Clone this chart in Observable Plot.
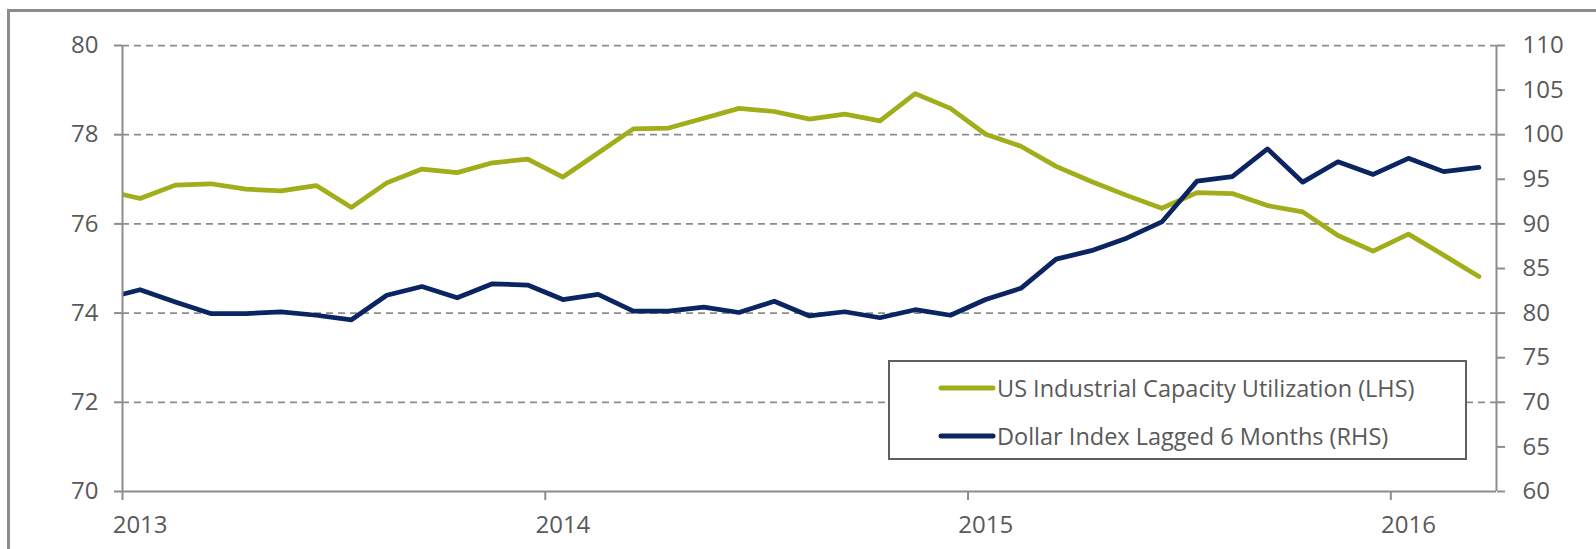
<!DOCTYPE html>
<html>
<head>
<meta charset="utf-8">
<script src="https://cdn.jsdelivr.net/npm/d3@7"></script>
<script src="https://cdn.jsdelivr.net/npm/@observablehq/plot@0.6"></script>
<style>
  body { margin: 0; background: #fff; }
  #wrap { position: relative; width: 1596px; height: 549px; overflow: hidden; font-family: "Open Sans", sans-serif; }
  #frame { position: absolute; left: 7px; top: 9px; width: 2000px; height: 1000px; border: 3px solid #8c8c8c; box-sizing: border-box; }
  #chart { position: absolute; left: 0; top: 0; }
  #legend { position: absolute; left: 888px; top: 360px; width: 579px; height: 100px; border: 2px solid #5f5f5f; background: #fff; box-sizing: border-box; }
  .row { position: absolute; left: 48px; height: 34px; display: flex; align-items: center; color: #595959; font-size: 23.5px; white-space: nowrap; }
  .row svg { margin-right: 1px; }
</style>
</head>
<body>
<div id="wrap">
  <div id="frame"></div>
  <div id="chart"></div>
  <div id="legend"></div>
</div>
<script>
// ---- data ----
const months = [
  "2012-12",
  "2013-01","2013-02","2013-03","2013-04","2013-05","2013-06","2013-07","2013-08","2013-09","2013-10","2013-11","2013-12",
  "2014-01","2014-02","2014-03","2014-04","2014-05","2014-06","2014-07","2014-08","2014-09","2014-10","2014-11","2014-12",
  "2015-01","2015-02","2015-03","2015-04","2015-05","2015-06","2015-07","2015-08","2015-09","2015-10","2015-11","2015-12",
  "2016-01","2016-02","2016-03"
];
const capacityUtilization = [
  76.75,
  76.57, 76.87, 76.90, 76.78, 76.74, 76.86, 76.37, 76.92, 77.23, 77.15, 77.37, 77.45,
  77.05, 77.59, 78.13, 78.15, 78.37, 78.59, 78.52, 78.35, 78.46, 78.31, 78.92, 78.59,
  78.01, 77.74, 77.29, 76.95, 76.64, 76.35, 76.70, 76.68, 76.41, 76.27, 75.74, 75.39,
  75.77, 75.30, 74.82
];
const dollarIndexLagged = [
  81.6,
  82.62, 81.25, 79.95, 79.95, 80.15, 79.76, 79.25, 82.00, 82.98, 81.72, 83.29, 83.15,
  81.52, 82.11, 80.23, 80.23, 80.66, 80.07, 81.33, 79.68, 80.15, 79.48, 80.38, 79.76,
  81.52, 82.78, 86.05, 87.00, 88.40, 90.22, 94.80, 95.30, 98.41, 94.68, 96.96, 95.55,
  97.35, 95.86, 96.33
];
const seriesNames = ["US Industrial Capacity Utilization (LHS)", "Dollar Index Lagged 6 Months (RHS)"];
const leftTicks = [70, 72, 74, 76, 78, 80];
const rightTicks = [60, 65, 70, 75, 80, 85, 90, 95, 100, 105, 110];
const yearLabels = ["2013", "2014", "2015", "2016"];

// ---- styling ----
const GREEN = "#a2ad1a";
const NAVY = "#0b2462";
const AXIS = "#8c8c8c";
const TEXT = "#595959";
const seriesColors = [GREEN, NAVY];

// helpers
const monthPos = m => { const [y, mo] = m.split("-").map(Number); return (y - 2013) * 12 + (mo - 1) + 0.5; };
const leftMin = 70, leftMax = 80, rightMin = 60, rightMax = 110;
const rightToLeft = r => leftMin + (r - rightMin) * (leftMax - leftMin) / (rightMax - rightMin);
const leftToRight = l => rightMin + (l - leftMin) * (rightMax - rightMin) / (leftMax - leftMin);

const capData = months.map((m, i) => ({x: monthPos(m), y: capacityUtilization[i]}));
const usdData = months.map((m, i) => ({x: monthPos(m), y: rightToLeft(dollarIndexLagged[i])}));
const yearStarts = yearLabels.map(y => (Number(y) - 2013) * 12);

const chart = Plot.plot({
  width: 1596,
  height: 549,
  marginLeft: 122,
  marginRight: 100,
  marginTop: 45,
  marginBottom: 58,
  style: {fontFamily: "'Open Sans', sans-serif", fontSize: "24px", color: TEXT, background: "transparent", overflow: "visible"},
  x: {type: "linear", domain: [0, 39]},
  y: {domain: [leftMin, leftMax]},
  marks: [
    Plot.ruleY(leftTicks.filter(d => d > leftMin), {stroke: AXIS, strokeWidth: 1.75, strokeDasharray: "7,5"}),
    Plot.line(capData, {x: "x", y: "y", stroke: GREEN, strokeWidth: 4.75, strokeLinejoin: "round", strokeLinecap: "round", clip: true}),
    Plot.line(usdData, {x: "x", y: "y", stroke: NAVY, strokeWidth: 4.75, strokeLinejoin: "round", strokeLinecap: "round", clip: true}),
    Plot.ruleX([0, 39], {stroke: AXIS, strokeWidth: 2}),
    Plot.ruleY([leftMin], {stroke: AXIS, strokeWidth: 2}),
    Plot.axisY(leftTicks, {anchor: "left", tickSize: 8, tickPadding: 16, stroke: AXIS, strokeWidth: 2, fill: TEXT, label: null}),
    Plot.axisY(rightTicks.map(rightToLeft), {anchor: "right", tickSize: 8, tickPadding: 18, stroke: AXIS, strokeWidth: 2, fill: TEXT, label: null, tickFormat: d => Math.round(leftToRight(d))}),
    Plot.axisX(yearStarts, {anchor: "bottom", tickSize: 9, stroke: AXIS, strokeWidth: 2, tickFormat: () => "", label: null}),
    Plot.axisX(yearStarts.map(d => d + 0.5), {anchor: "bottom", tickSize: 0, tickPadding: 24, fill: TEXT, label: null, tickFormat: d => yearLabels[Math.round(d - 0.5) / 12]})
  ]
});
document.getElementById("chart").appendChild(chart);

// legend
const legend = document.getElementById("legend");
const rowTops = [9, 57];
seriesNames.forEach((name, i) => {
  const row = document.createElement("div");
  row.className = "row";
  row.style.top = rowTops[i] + "px";
  row.innerHTML = `<svg width="58" height="10"><line x1="3" y1="5" x2="55" y2="5" stroke="${seriesColors[i]}" stroke-width="5" stroke-linecap="round"/></svg><span>${name}</span>`;
  legend.appendChild(row);
});
</script>
</body>
</html>
